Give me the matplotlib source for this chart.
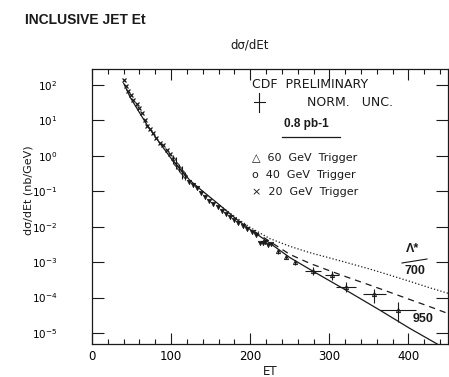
import numpy as np
import matplotlib
matplotlib.use("Agg")
import matplotlib.pyplot as plt
from matplotlib.ticker import MultipleLocator, FixedLocator, NullLocator
from matplotlib.lines import Line2D

W, H = 449, 377

# --- data (ET in GeV, dsigma/dEt in nb/GeV) ---
et_20 = [40, 43, 46, 49.5, 52, 57, 60, 63, 67, 70, 73.5, 77, 81, 86, 90, 95, 98]
xs_20 = [1.38e2, 9.3e1, 6.8e1, 5.2e1, 3.8e1, 2.9e1, 2.2e1, 1.6e1, 1.0e1, 6.9e0,
         5.8e0, 4.4e0, 3.2e0, 2.3e0, 2.0e0, 1.45e0, 1.1e0]

et_40 = [103, 106, 110, 114, 118]
xs_40 = [8.0e-1, 6.0e-1, 4.5e-1, 3.4e-1, 2.7e-1]
xs_40_lo = [6.0e-1, 4.2e-1, 3.4e-1, 2.2e-1, 2.1e-1]
xs_40_hi = [1.05e0, 9.0e-1, 5.8e-1, 5.0e-1, 3.4e-1]

et_60 = [123, 128, 133, 138, 143, 148, 153, 159, 164, 169, 174, 179.5, 184.5,
         191, 196, 202, 207, 212, 216, 219, 222, 226]
xs_60 = [1.8e-1, 1.5e-1, 1.23e-1, 8.9e-2, 6.9e-2, 5.2e-2, 4.4e-2, 3.5e-2, 2.75e-2,
         2.3e-2, 1.86e-2, 1.55e-2, 1.26e-2, 1.05e-2, 8.5e-3, 7.1e-3, 5.75e-3,
         3.5e-3, 3.4e-3, 3.6e-3, 3.0e-3, 3.3e-3]

# high-ET points with error bars
et_hi = [235, 245, 257, 279, 303, 321, 357, 387]
xs_hi = [2.0e-3, 1.38e-3, 1.0e-3, 5.6e-4, 4.3e-4, 1.95e-4, 1.3e-4, 4.4e-5]
xs_hi_lo = [1.75e-3, 1.2e-3, 8.5e-4, 4.3e-4, 3.1e-4, 1.45e-4, 7.1e-5, 2.0e-5]
xs_hi_hi = [2.3e-3, 1.6e-3, 1.15e-3, 7.2e-4, 5.6e-4, 2.75e-4, 1.8e-4, 7.6e-5]
et_hi_err = [0, 0, 0, 10, 9, 13, 15, 23]

# QCD curve (solid)
et_qcd = [40, 48, 60, 70, 85, 101, 124, 140, 158, 183, 200, 225, 250, 279, 321,
          364, 401, 437]
xs_qcd = [1.12e2, 4.6e1, 1.66e1, 7.2e0, 2.4e0, 7.9e-1, 2.0e-1, 1.0e-1, 4.7e-2,
          1.6e-2, 8.3e-3, 3.4e-3, 1.35e-3, 5.6e-4, 1.62e-4, 4.4e-5, 1.38e-5,
          4.8e-6]

# compositeness Lambda* = 700 GeV (dotted)
et_700 = [165, 183, 200, 225, 250, 275, 300, 325, 350, 375, 400, 425, 450]
xs_700 = [3.5e-2, 1.74e-2, 9.5e-3, 4.6e-3, 2.8e-3, 1.86e-3, 1.32e-3, 9.3e-4,
          6.5e-4, 4.4e-4, 2.95e-4, 1.95e-4, 1.32e-4]

# compositeness Lambda* = 950 GeV (dashed)
et_950 = [205, 225, 250, 275, 300, 325, 350, 375, 400, 425, 450]
xs_950 = [7.4e-3, 3.8e-3, 1.66e-3, 9.3e-4, 5.75e-4, 3.6e-4, 2.3e-4, 1.45e-4,
          9.1e-5, 5.75e-5, 3.55e-5]

y_decades = [1e-5, 1e-4, 1e-3, 1e-2, 1e-1, 1e0, 1e1, 1e2]

fig = plt.figure(figsize=(W / 100, H / 100), dpi=100)
ax = fig.add_axes([92 / W, 33 / H, 356 / W, 275 / H])

ink = "#1a1a1a"
ax.plot(et_qcd, xs_qcd, "-", color=ink, lw=0.9)
ax.plot(et_700, xs_700, ":", color=ink, lw=0.9)
ax.plot(et_950, xs_950, "--", color=ink, lw=0.9, dashes=(5, 4))

ax.plot(et_20, xs_20, "x", color=ink, ms=3.5, mew=0.9)
ax.errorbar(et_40, xs_40,
            yerr=[np.array(xs_40) - np.array(xs_40_lo), np.array(xs_40_hi) - np.array(xs_40)],
            fmt="o", color=ink, ms=2.5, mfc="none", mew=0.8, elinewidth=0.8, capsize=0)
ax.plot(et_60, xs_60, "v", color=ink, ms=3.2, mfc=ink, mew=0.5)
ax.errorbar(et_hi, xs_hi, xerr=et_hi_err,
            yerr=[np.array(xs_hi) - np.array(xs_hi_lo), np.array(xs_hi_hi) - np.array(xs_hi)],
            fmt="^", color=ink, ms=3, mfc="none", mew=0.7, elinewidth=0.8, capsize=0)

ax.set_yscale("log")
ax.set_xlim(0, 450)
ax.set_ylim(10 ** -5.31, 10 ** 2.45)

ax.xaxis.set_major_locator(MultipleLocator(100))
ax.xaxis.set_minor_locator(MultipleLocator(20))
ax.yaxis.set_major_locator(FixedLocator(y_decades))
ax.yaxis.set_minor_locator(NullLocator())

ax.tick_params(which="both", direction="in", top=True, right=True, color=ink, width=0.8)
ax.tick_params(axis="x", which="major", length=8, labelsize=8.5, pad=4)
ax.tick_params(axis="x", which="minor", length=3.5)
ax.tick_params(axis="y", which="major", length=8.5, labelsize=7.5, pad=25)
for s in ax.spines.values():
    s.set_linewidth(0.9)
    s.set_color(ink)

ax.set_xlabel("ET", fontsize=8.5, labelpad=2, color=ink)
ax.set_ylabel("d\u03c3/dEt (nb/GeV)", fontsize=8, color=ink)
ax.yaxis.set_label_coords(-0.165, 0.56)


def ftext(x, y, s, **kw):
    fig.text(x / W, 1 - y / H, s, va="center", color=ink, **kw)


def fline(x0, y0, x1, y1, lw=0.8):
    fig.add_artist(Line2D([x0 / W, x1 / W], [1 - y0 / H, 1 - y1 / H],
                          color=ink, lw=lw, transform=fig.transFigure))


ftext(25, 20, "INCLUSIVE JET Et", fontsize=10, fontweight="bold",
      family="Liberation Sans")
ftext(250, 45, "d\u03c3/dEt", fontsize=8.5, ha="center")

ftext(252, 85, "CDF  PRELIMINARY", fontsize=9)
fline(259, 93, 259, 112)
fline(254, 102, 265, 102)
ftext(307, 103, "NORM.   UNC.", fontsize=9)
ftext(306, 124, "0.8 pb-1", fontsize=8.5, fontweight="bold",
      family="Liberation Sans", ha="center")
fline(282, 137, 340, 137, lw=0.9)
ftext(252, 158, "\u25b3  60  GeV  Trigger", fontsize=8)
ftext(252, 175, "o  40  GeV  Trigger", fontsize=8)
ftext(252, 192, "\u00d7  20  GeV  Trigger", fontsize=8)

ftext(413, 249, "\u039b*", fontsize=9, fontweight="bold", ha="center",
      family="Liberation Sans")
fline(402, 263, 427, 259)
ftext(415, 271, "700", fontsize=9, fontweight="bold", ha="center",
      family="Liberation Sans")
ftext(423, 319, "950", fontsize=9, fontweight="bold", ha="center",
      family="Liberation Sans")

fig.savefig("out.png", dpi=100, facecolor="white")
